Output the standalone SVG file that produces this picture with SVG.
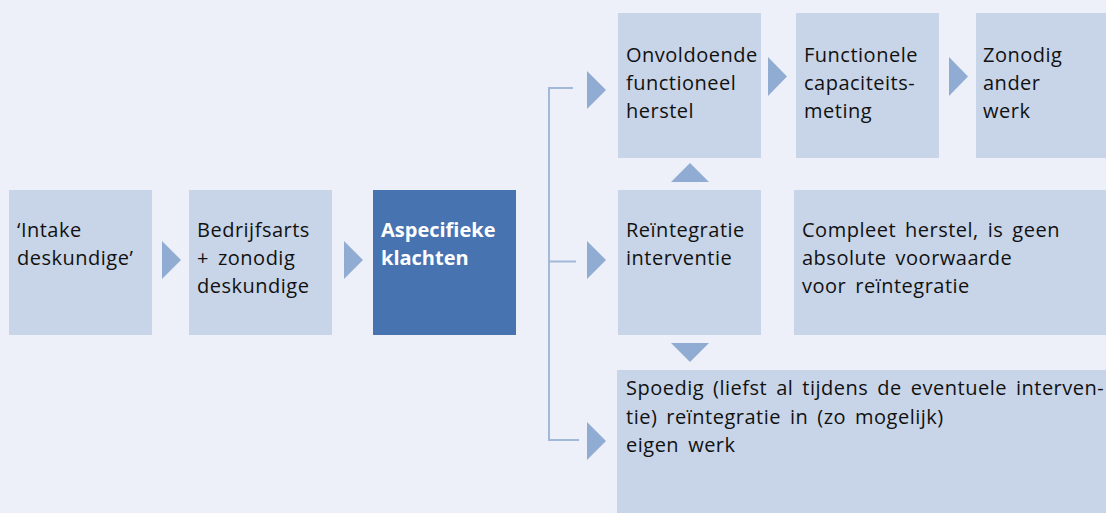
<svg xmlns="http://www.w3.org/2000/svg" width="1106" height="513" viewBox="0 0 1106 513">
<style>
.bg{fill:#edf0f8}
.box{fill:#c8d5e8}
.dark{fill:#4773b1}
.arr{fill:#91acd2}
.ln{stroke:#a2b8d8;stroke-width:2;fill:none}
text{font-family:"Open Sans","Liberation Sans",sans-serif;font-size:20px;fill:#111;letter-spacing:0.5px;word-spacing:3.3px}
.w{fill:#fff;font-weight:bold;letter-spacing:0}
</style>
<rect class="bg" width="1106" height="513"/>
<g id="connectors">
<path class="ln" d="M573,88 H549 V440 H579 M549,261.5 H576"/>
<polygon class="arr" points="162,241 181,260 162,279"/>
<polygon class="arr" points="344,241 363,260 344,279"/>
<polygon class="arr" points="587,71 606,90 587,109"/>
<polygon class="arr" points="587,241 606,260 587,279"/>
<polygon class="arr" points="587,422 606,441 587,460"/>
<polygon class="arr" points="768,57 787,76.5 768,96"/>
<polygon class="arr" points="949,57 968,76.5 949,96"/>
<polygon class="arr" points="671,182 690,163 709,182"/>
<polygon class="arr" points="671,343 709,343 690,362"/>
</g>
<g id="intake"><rect class="box" x="9" y="190" width="143" height="145"/><text x="17" y="237">‘Intake</text><text x="17" y="265">deskundige’</text></g>
<g id="bedrijfsarts"><rect class="box" x="189" y="190" width="143" height="145"/><text x="197" y="237">Bedrijfsarts</text><text x="197" y="265">+ zonodig</text><text x="197" y="293">deskundige</text></g>
<g id="aspecifiek"><rect class="dark" x="373" y="190" width="143" height="145"/><text class="w" x="381" y="237">Aspecifieke</text><text class="w" x="381" y="265">klachten</text></g>
<g id="onvoldoende"><rect class="box" x="618" y="13" width="143" height="145"/><text x="626" y="62">Onvoldoende</text><text x="626" y="90">functioneel</text><text x="626" y="118">herstel</text></g>
<g id="functionele"><rect class="box" x="796" y="13" width="143" height="145"/><text x="804" y="62">Functionele</text><text x="804" y="90">capaciteits-</text><text x="804" y="118">meting</text></g>
<g id="zonodig"><rect class="box" x="976" y="13" width="130" height="145"/><text x="983" y="62">Zonodig</text><text x="983" y="90">ander</text><text x="983" y="118">werk</text></g>
<g id="reintegratie"><rect class="box" x="618" y="190" width="143" height="145"/><text x="626" y="237">Reïntegratie</text><text x="626" y="265">interventie</text></g>
<g id="compleet"><rect class="box" x="794" y="190" width="312" height="145"/><text x="802" y="237">Compleet herstel, is geen</text><text x="802" y="265">absolute voorwaarde</text><text x="802" y="293">voor reïntegratie</text></g>
<g id="spoedig"><rect class="box" x="617" y="370" width="489" height="143"/><text x="626" y="395">Spoedig (liefst al tijdens de eventuele interven-</text><text x="626" y="424">tie) reïntegratie in (zo mogelijk)</text><text x="626" y="452">eigen werk</text></g>
</svg>
